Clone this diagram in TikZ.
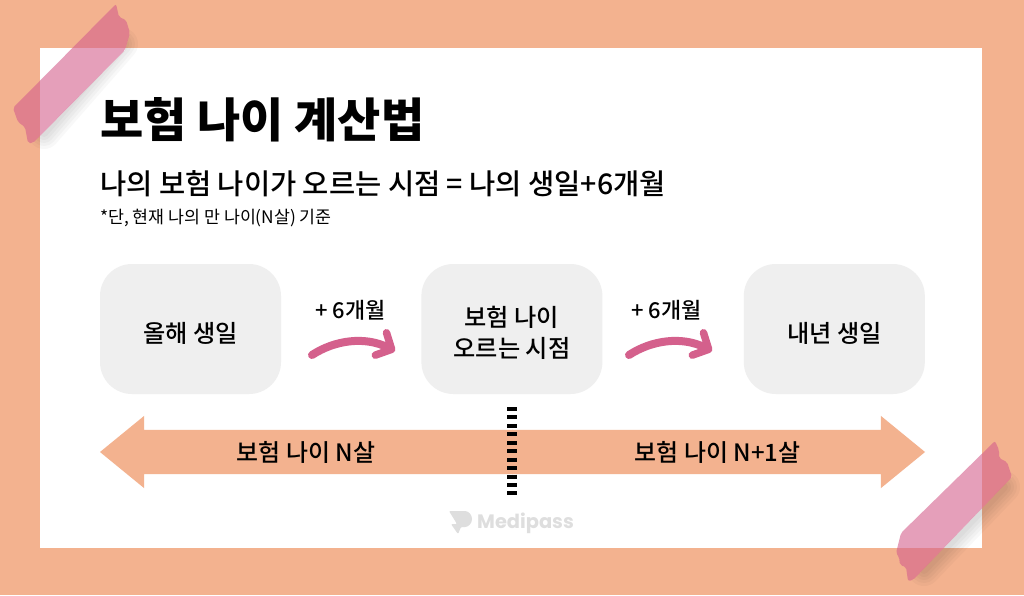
\documentclass[tikz,border=0pt]{standalone}
\usepackage{fontspec}
\setmainfont{Noto Sans CJK KR}
\newfontfamily\krmedium{Noto Sans CJK KR Medium}
\newfontfamily\krblack{Noto Sans CJK KR Black}
\newfontfamily\logofont{Poppins}
\usetikzlibrary{shapes.arrows, arrows.meta, positioning}
\definecolor{bgorange}{HTML}{F3B28F}
\definecolor{boxgray}{HTML}{EFEFEF}
\definecolor{curvepink}{HTML}{D4608C}
\definecolor{logogray}{HTML}{DEDEDE}
\newcommand{\boxdrop}{\rule{0pt}{29pt}}
\def\lefttape{(116,4) -- (119,17) -- (126,20) -- (130,33) -- (125,50) -- (33,143) -- (28,143) -- (25,127) -- (18,122) -- (13,108) -- cycle}
\def\righttape{(995,441) -- (999,450) -- (999,458) -- (1007,462) -- (1012,477) -- (913,580) -- (908,581) -- (906,567) -- (900,565) -- (899,557) -- (896,553) -- (901,533) -- cycle}
\begin{document}
\begin{tikzpicture}[
  x=1pt, y=-1pt,
  sheet/.style={rectangle, fill=white, minimum width=942pt, minimum height=500pt, inner sep=0pt},
  datebox/.style={rectangle, fill=boxgray, rounded corners=32pt, minimum width=181pt,
                  minimum height=130pt, inner sep=0pt, align=center, font=\krmedium\fontsize{24.2}{31}\selectfont},
  spanarrow/.style={single arrow, fill=bgorange, minimum height=413pt, inner xsep=0pt, inner ysep=22pt,
                    single arrow head extend=14pt, single arrow tip angle=78.6, outer sep=0pt},
  spantext/.style={inner sep=0pt, font=\krmedium\fontsize{23.9}{28}\selectfont},
  steptext/.style={inner sep=0pt, font=\krmedium\fontsize{21.9}{26}\selectfont},
  headtext/.style={inner sep=0pt, anchor=west},
  curvearrow/.style={curvepink, line width=8pt, line cap=round,
                     -{Straight Barb[round, length=12pt, width=25pt, line width=7.5pt]}},
  tape/.style={fill=curvepink, opacity=0.6, rounded corners=2pt},
  tapeshadow/.style={black, opacity=0.028, line cap=round}
]
\path[fill=bgorange] (0,0) rectangle (1024,595);
\node[sheet] (page) at (511,298) {};

\node[headtext, font=\krblack\fontsize{47}{52}\selectfont] (title) at (100,120) {보험 나이 계산법};
\node[headtext, font=\krmedium\fontsize{28.5}{32}\selectfont] (rule) at (100,184) {나의 보험 나이가 오르는 시점 = 나의 생일+6개월};
\node[headtext, font=\fontsize{17.3}{20}\selectfont] (note) at (100,218) {*단, 현재 나의 만 나이(N살) 기준};

\node[datebox] (thisyear) at (190.5,329) {\boxdrop 올해 생일};
\node[datebox, right=140pt of thisyear] (point) {\boxdrop 보험 나이\\오르는 시점};
\node[datebox, right=141pt of point] (nextyear) {\boxdrop 내년 생일};

\node[steptext] (stepa) at (350.5,310) {+ 6개월};
\node[steptext] (stepb) at (666.5,310) {+ 6개월};
\coordinate (stepastart) at (312,355);
\coordinate (stepaend) at (395,351);
\coordinate (stepbstart) at (629,355);
\coordinate (stepbend) at (712,351);
\draw[curvearrow] (stepastart) .. controls (335,340) and (365,336) .. (stepaend);
\draw[curvearrow] (stepbstart) .. controls (652,340) and (682,336) .. (stepbend);

\node[spanarrow, shape border rotate=180, anchor=tip] (before) at (100,452) {};
\node[spanarrow, anchor=tip] (after) at (925,452) {};
\node[spantext] (beforetext) at (306,452) {보험 나이 N살};
\node[spantext] (aftertext) at (717.5,452) {보험 나이 N+1살};

\coordinate (cuttop) at (512,407);
\coordinate (cutbottom) at (512,495.5);
\draw[line width=10pt, dash pattern=on 4pt off 4.44pt] (cuttop) -- (cutbottom);

\fill[logogray, rounded corners=1pt] (449,511) -- (464,511) arc[start angle=90, end angle=-90, radius=8pt]
  -- (461,527) -- (458,534) -- (451,524) -- (457,524) -- cycle;
\node[headtext, text=logogray, font=\logofont\bfseries\fontsize{19.4}{24}\selectfont] (logo) at (477,523) {Medipass};

\begin{scope}[even odd rule]
  \clip (0,0) rectangle (1024,595) \lefttape;
  \foreach \w in {32,26,20,14,8}
    \draw[tapeshadow, line width=\w pt] (122,44) -- (44,133);
\end{scope}
\begin{scope}[even odd rule]
  \clip (0,0) rectangle (1024,595) \righttape;
  \foreach \w in {32,26,20,14,8}
    \draw[tapeshadow, line width=\w pt] (1004,487) -- (924,570);
\end{scope}
\fill[tape] \lefttape;
\fill[tape] \righttape;
\end{tikzpicture}
\end{document}
